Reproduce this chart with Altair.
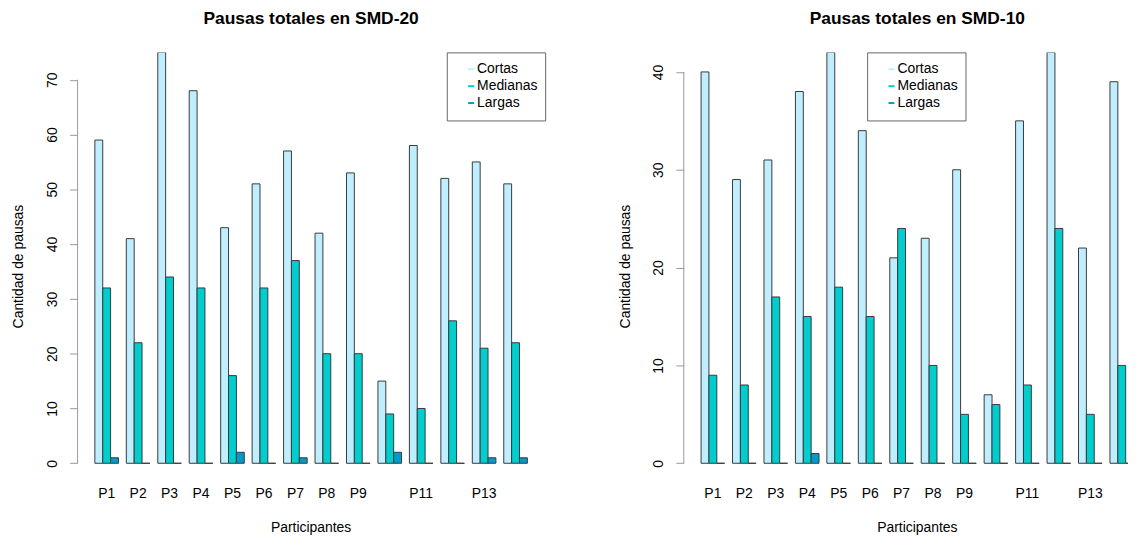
import altair as alt
import pandas as pd

# ---------------- data ----------------
participants = ["P1", "P2", "P3", "P4", "P5", "P6", "P7", "P8", "P9", "P10", "P11", "P12", "P13", "P14"]
hidden_labels = ["P10", "P12", "P14"]
categories = ["Cortas", "Medianas", "Largas"]
colors = ["#BFEFFF", "#00CDCD", "#009ACD"]

smd20_cortas = [59, 41, 75, 68, 43, 51, 57, 42, 53, 15, 58, 52, 55, 51]
smd20_medianas = [32, 22, 34, 32, 16, 32, 37, 20, 20, 9, 10, 26, 21, 22]
smd20_largas = [1, 0, 0, 0, 2, 0, 1, 0, 0, 2, 0, 0, 1, 1]
smd20_ticks = [0, 10, 20, 30, 40, 50, 60, 70]

smd10_cortas = [40, 29, 31, 38, 42, 34, 21, 23, 30, 7, 35, 42, 22, 39]
smd10_medianas = [9, 8, 17, 15, 18, 15, 24, 10, 5, 6, 8, 24, 5, 10]
smd10_largas = [0, 0, 0, 1, 0, 0, 0, 0, 0, 0, 0, 0, 0, 0]
smd10_ticks = [0, 10, 20, 30, 40]

FONT = "Liberation Sans"
FULL_W = 470   # width of the band range (plot region in the original)
PLOT_H = 430


def long_table(cortas, medianas, largas):
    rows = []
    for i, p in enumerate(participants):
        for cat, vals in zip(categories, (cortas, medianas, largas)):
            rows.append({"Participante": p, "Tipo": cat, "Cantidad": vals[i]})
    return pd.DataFrame(rows)


def legend_layers(lx):
    """Boxed legend with short coloured line keys, like R's legend()."""
    one = pd.DataFrame({"k": [0]})
    layers = [
        alt.Chart(one).mark_rect(fill="white", stroke="#666666", strokeWidth=1).encode(
            x=alt.value(lx), x2=alt.value(lx + 99), y=alt.value(0.5), y2=alt.value(69)
        )
    ]
    for i, (cat, col) in enumerate(zip(categories, colors)):
        row = pd.DataFrame({"Serie": [cat]})
        ry = 17 + 17 * i
        layers.append(
            alt.Chart(row).mark_rule(strokeWidth=2, color=col).encode(
                x=alt.value(lx + 21), x2=alt.value(lx + 27), y=alt.value(ry)
            )
        )
        layers.append(
            alt.Chart(row).mark_text(
                align="left", baseline="middle", font=FONT, fontSize=14, color="black"
            ).encode(x=alt.value(lx + 30), y=alt.value(ry), text="Serie:N")
        )
    return layers


def panel(title, cortas, medianas, largas, ticks, width, legend_x):
    df = long_table(cortas, medianas, largas)
    ymax = max(cortas + medianas + largas)
    yscale = alt.Scale(domain=[-0.04 * ymax, ymax], nice=False, zero=False)
    xscale = alt.Scale(domain=participants, range=[0, FULL_W], paddingInner=0.25, paddingOuter=0.55)

    bars = alt.Chart(df).mark_bar(stroke="#3a3a3a", strokeWidth=1, clip=True).encode(
        x=alt.X("Participante:N", sort=participants, scale=xscale, axis=None),
        xOffset=alt.XOffset("Tipo:N", sort=categories,
                            scale=alt.Scale(domain=categories, paddingInner=0, paddingOuter=0)),
        y=alt.Y(
            "Cantidad:Q",
            scale=yscale,
            axis=alt.Axis(
                values=ticks, title="Cantidad de pausas", grid=False, domain=False,
                ticks=True, tickSize=8, tickColor="#999999", tickWidth=1,
                labelAngle=270, labelAlign="center", labelBaseline="alphabetic", labelPadding=13,
                labelFont=FONT, labelFontSize=14, labelColor="black",
                titleFont=FONT, titleFontSize=14, titleFontWeight="normal", titleColor="black",
                titleAngle=270, titleX=-55, titleY=PLOT_H / 2, titleBaseline="alphabetic", titleAlign="center",
            ),
        ),
        y2=alt.datum(0),
        fill=alt.Fill("Tipo:N", scale=alt.Scale(domain=categories, range=colors), legend=None),
    )

    axis_df = pd.DataFrame({"lo": [ticks[0]], "hi": [ticks[-1]]})
    axis_line = alt.Chart(axis_df).mark_rule(color="#999999", strokeWidth=1).encode(
        x=alt.value(0),
        y=alt.Y("lo:Q", title="Cantidad de pausas"),
        y2="hi:Q",
    )

    label_df = pd.DataFrame({"Participante": [p for p in participants if p not in hidden_labels]})
    x_labels = alt.Chart(label_df).mark_text(
        baseline="alphabetic", align="center", font=FONT, fontSize=14, color="black"
    ).encode(
        x=alt.X("Participante:N", sort=participants, scale=xscale, axis=None),
        y=alt.value(PLOT_H + 18),
        text="Participante:N",
    )

    xtitle_df = pd.DataFrame({"t": ["Participantes"]})
    x_title = alt.Chart(xtitle_df).mark_text(
        baseline="alphabetic", align="center", font=FONT, fontSize=14, color="black"
    ).encode(x=alt.value(FULL_W / 2), y=alt.value(PLOT_H + 53), text="t:N")

    title_df = pd.DataFrame({"t": [title]})
    title_mark = alt.Chart(title_df).mark_text(
        baseline="alphabetic", align="center", font=FONT, fontSize=17.5, fontWeight="bold", color="black"
    ).encode(x=alt.value(FULL_W / 2), y=alt.value(-29), text="t:N")

    return alt.layer(bars, axis_line, x_labels, x_title, title_mark, *legend_layers(legend_x)).properties(
        width=width, height=PLOT_H,
    )


left = panel("Pausas totales en SMD-20", smd20_cortas, smd20_medianas, smd20_largas,
             smd20_ticks, FULL_W, 372)
right = panel("Pausas totales en SMD-10", smd10_cortas, smd10_medianas, smd10_largas,
              smd10_ticks, 447, 185)

chart = alt.hconcat(left, right, spacing=72).resolve_scale(
    x="independent", y="independent", fill="independent"
).properties(
    padding={"left": 4, "top": 0, "right": 0, "bottom": 0},
    background="white",
).configure_view(stroke=None)

chart.save("out.html", embed_options={"renderer": "svg", "actions": False})
